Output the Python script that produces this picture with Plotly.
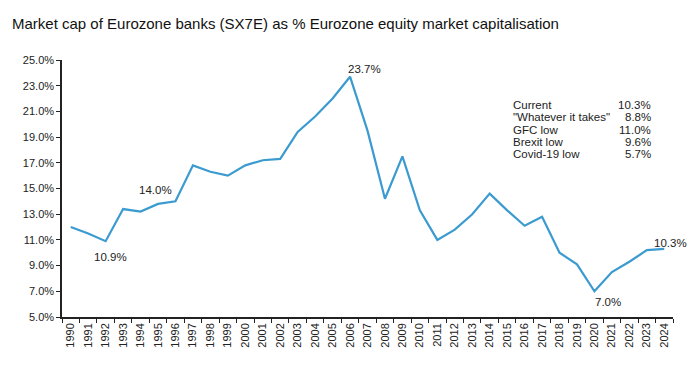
import plotly.graph_objects as go

years = [str(y) for y in range(1990, 2025)]
share = [12.0, 11.5, 10.9, 13.4, 13.2, 13.8, 14.0, 16.8, 16.3, 16.0,
         16.8, 17.2, 17.3, 19.4, 20.6, 22.0, 23.7, 19.5, 14.2, 17.5,
         13.3, 11.0, 11.8, 13.0, 14.6, 13.3, 12.1, 12.8, 10.0, 9.1,
         7.0, 8.5, 9.3, 10.2, 10.3]
y_ticks = [5, 7, 9, 11, 13, 15, 17, 19, 21, 23, 25]

# point labels: (year, text, x shift, y shift)
point_labels = [("1992", "10.9%", 5, -16), ("1996", "14.0%", -20, 11),
                ("2006", "23.7%", 14, 8), ("2020", "7.0%", 14, -11),
                ("2024", "10.3%", 6, 6)]

box_names = ["Current", "\"Whatever it takes\"", "GFC low", "Brexit low", "Covid-19 low"]
box_values = ["10.3%", "8.8%", "11.0%", "9.6%", "5.7%"]

FONT = "Liberation Sans, Arial, sans-serif"
W, H = 687, 358  # page body adds an 8px offset
fig = go.Figure()
fig.add_trace(go.Scatter(x=years, y=share, mode="lines",
                         line=dict(color="#3b9bd0", width=2.2),
                         hoverinfo="skip"))

anns = []
for yr, txt, dx, dy in point_labels:
    i = years.index(yr)
    anns.append(dict(x=i, y=share[i], xref="x", yref="y", text=txt,
                     showarrow=False, xshift=dx, yshift=dy,
                     font=dict(family=FONT, size=11.5, color="#222")))
for i, (n, v) in enumerate(zip(box_names, box_values)):
    yp = 0.825 - i * 12.3 / 257
    anns.append(dict(x=0.735, y=yp, xref="paper", yref="paper", text=n,
                     showarrow=False, xanchor="left", yanchor="middle",
                     font=dict(family=FONT, size=11.5, color="#222")))
    anns.append(dict(x=0.968, y=yp, xref="paper", yref="paper", text=v,
                     showarrow=False, xanchor="right", yanchor="middle",
                     font=dict(family=FONT, size=11.5, color="#222")))

fig.update_layout(
    width=W, height=H,
    margin=dict(l=54, r=22, t=52, b=49),
    paper_bgcolor="white", plot_bgcolor="white",
    showlegend=False,
    title=dict(text="Market cap of Eurozone banks (SX7E) as % Eurozone equity market capitalisation",
               x=4 / W, xanchor="left", y=1 - 16 / H, yanchor="middle",
               font=dict(family=FONT, size=15, color="#111")),
    annotations=anns,
    xaxis=dict(type="category", range=[-0.5, len(years) - 0.5],
               tickson="boundaries", ticks="outside", ticklen=4,
               tickcolor="#222", showline=True, linecolor="#222", linewidth=1.5,
               tickangle=-90, showgrid=False, zeroline=False,
               tickfont=dict(family=FONT, size=11, color="#222")),
    yaxis=dict(range=[5, 25], tickvals=y_ticks,
               ticktext=[f"{v:.1f}%" for v in y_ticks],
               ticks="outside", ticklen=4, tickcolor="#222",
               showline=True, linecolor="#222", linewidth=1.5,
               showgrid=False, zeroline=False,
               tickfont=dict(family=FONT, size=11, color="#222")),
)
fig.write_html("out.html")
